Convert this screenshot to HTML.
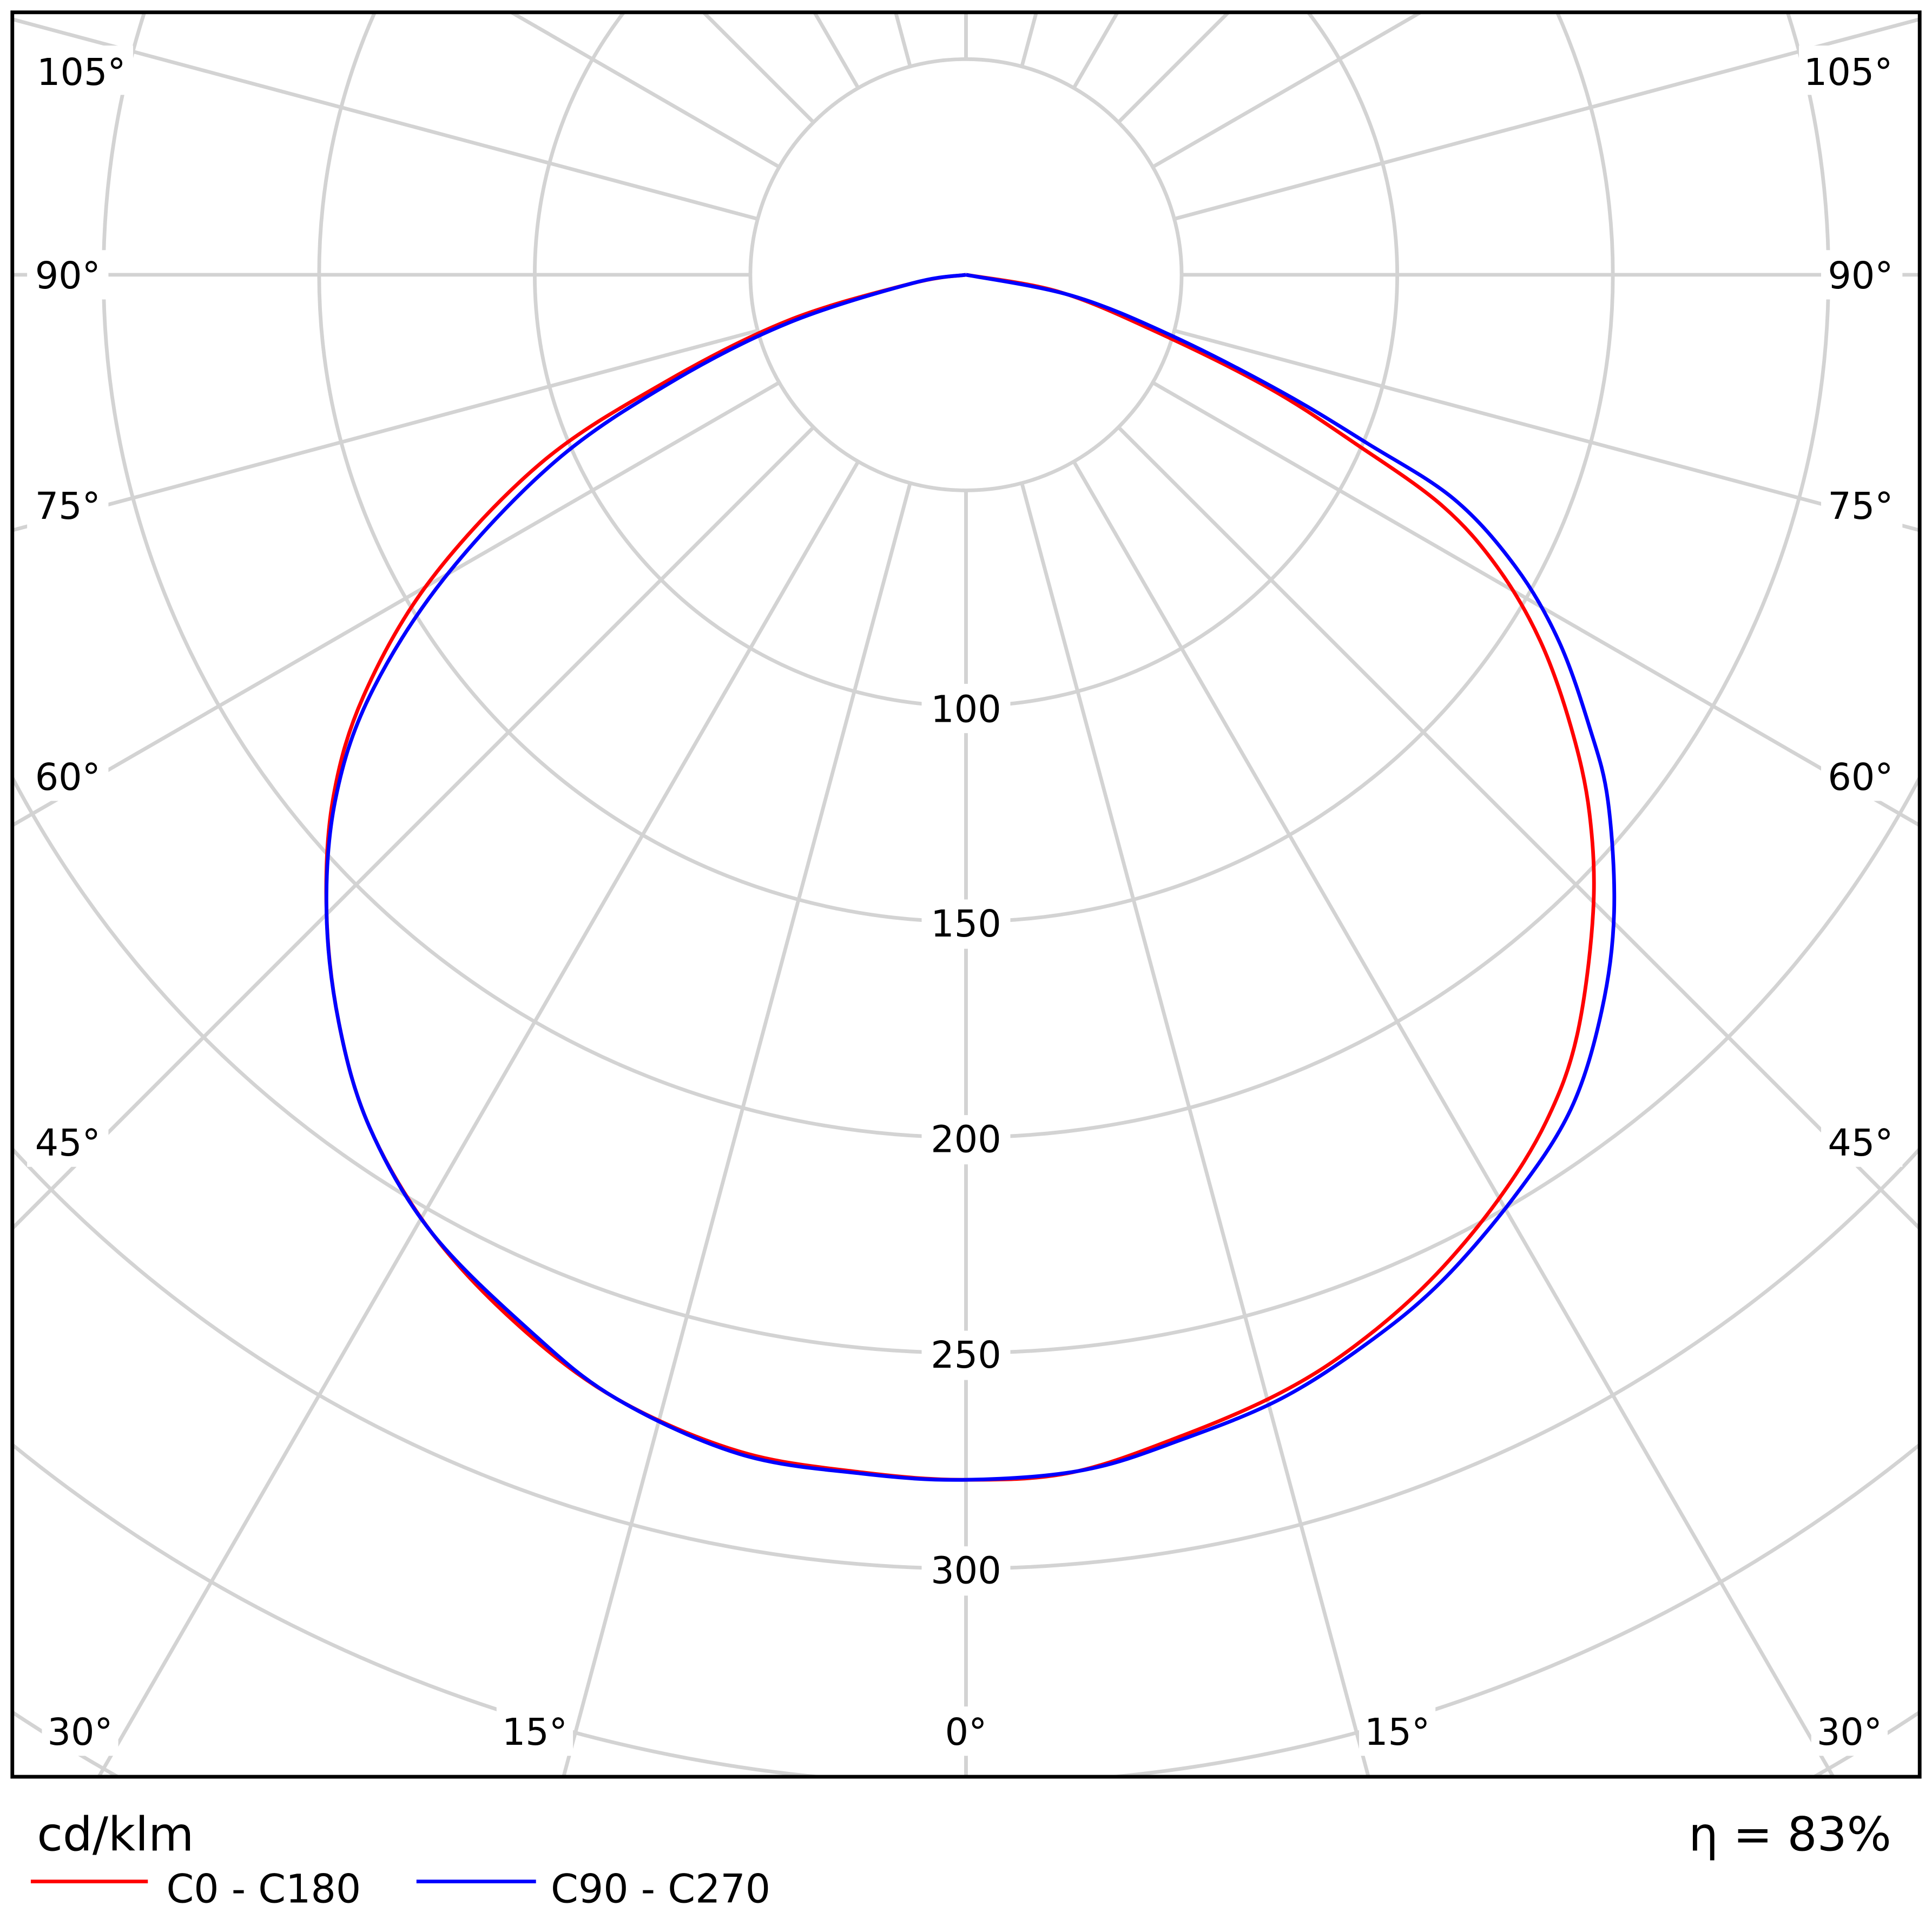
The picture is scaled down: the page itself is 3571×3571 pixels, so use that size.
<!DOCTYPE html>
<html><head><meta charset="utf-8"><style>html,body{margin:0;padding:0;background:#fff;width:3571px;height:3571px;overflow:hidden}svg{display:block}</style></head>
<body>
<svg width="3571" height="3571" viewBox="0 0 1568 1568" xmlns="http://www.w3.org/2000/svg" font-family="'DejaVu Sans','Liberation Sans',sans-serif">
<defs><clipPath id="c"><rect x="10" y="10" width="1548" height="1432"/></clipPath></defs>
<rect width="1568" height="1568" fill="#fff"/>
<g clip-path="url(#c)" stroke="#d3d3d3" stroke-width="3" fill="none">
<circle cx="784" cy="223" r="175"/><circle cx="784" cy="223" r="350"/><circle cx="784" cy="223" r="525"/>
<circle cx="784" cy="223" r="700"/><circle cx="784" cy="223" r="875"/><circle cx="784" cy="223" r="1050"/>
<circle cx="784" cy="223" r="1225"/><circle cx="784" cy="223" r="1400"/><circle cx="784" cy="223" r="1575"/>
<line x1="784" y1="398" x2="784" y2="2223"/>
<line x1="829.3" y1="392" x2="1301.6" y2="2154.8"/><line x1="738.7" y1="392" x2="266.4" y2="2154.8"/>
<line x1="871.5" y1="374.6" x2="1784" y2="1955"/><line x1="696.5" y1="374.6" x2="-216" y2="1955"/>
<line x1="907.7" y1="346.7" x2="2198" y2="1637"/><line x1="660.3" y1="346.7" x2="-630" y2="1637"/>
<line x1="935.6" y1="310.5" x2="2516" y2="1223"/><line x1="632.4" y1="310.5" x2="-948" y2="1223"/>
<line x1="953" y1="268.3" x2="2715.8" y2="740.6"/><line x1="615" y1="268.3" x2="-1147.8" y2="740.6"/>
<line x1="959" y1="223" x2="2784" y2="223"/><line x1="609" y1="223" x2="-1216" y2="223"/>
<line x1="953" y1="177.7" x2="2715.8" y2="-294.6"/><line x1="615" y1="177.7" x2="-1147.8" y2="-294.6"/>
<line x1="935.6" y1="135.5" x2="2516" y2="-777"/><line x1="632.4" y1="135.5" x2="-948" y2="-777"/>
<line x1="907.7" y1="99.3" x2="2198" y2="-1191"/><line x1="660.3" y1="99.3" x2="-630" y2="-1191"/>
<line x1="871.5" y1="71.4" x2="1784" y2="-1509"/><line x1="696.5" y1="71.4" x2="-216" y2="-1509"/>
<line x1="829.3" y1="54" x2="1301.6" y2="-1708.8"/><line x1="738.7" y1="54" x2="266.4" y2="-1708.8"/>
<line x1="784" y1="48" x2="784" y2="-1777"/>
</g>
<g fill="#fff">
<rect x="748" y="555" width="72" height="40"/><rect x="748" y="730" width="72" height="40"/><rect x="748" y="905" width="72" height="40"/>
<rect x="748" y="1080" width="72" height="40"/><rect x="748" y="1255" width="72" height="40"/>
<rect x="760" y="1385" width="48" height="40"/><rect x="403" y="1385" width="62" height="40"/><rect x="1103" y="1385" width="62" height="40"/>
<rect x="34" y="1385" width="62" height="40"/><rect x="1470" y="1385" width="62" height="40"/>
<rect x="22" y="907" width="66" height="40"/><rect x="1478" y="907" width="66" height="40"/>
<rect x="22" y="610" width="66" height="40"/><rect x="1478" y="610" width="66" height="40"/>
<rect x="22" y="390" width="66" height="40"/><rect x="1478" y="390" width="66" height="40"/>
<rect x="22" y="203" width="66" height="40"/><rect x="1478" y="203" width="66" height="40"/>
<rect x="22" y="37" width="86" height="40"/><rect x="1460" y="37" width="86" height="40"/>
</g>
<g font-size="30" fill="#000" text-anchor="middle">
<text x="784" y="586">100</text><text x="784" y="760">150</text><text x="784" y="935">200</text>
<text x="784" y="1110">250</text><text x="784" y="1285">300</text>
<text x="784" y="1416">0°</text><text x="434" y="1416">15°</text><text x="1134" y="1416">15°</text>
<text x="65" y="1416">30°</text><text x="1501" y="1416">30°</text>
<text x="55" y="938">45°</text><text x="1510" y="938">45°</text>
<text x="55" y="641">60°</text><text x="1510" y="641">60°</text>
<text x="55" y="421">75°</text><text x="1510" y="421">75°</text>
<text x="55" y="234">90°</text><text x="1510" y="234">90°</text>
<text x="66" y="69">105°</text><text x="1500" y="69">105°</text>
</g>
<g fill="none" stroke-width="3" stroke-linejoin="round">
<path id="red" stroke="#f00" d=""/>
<path id="blue" stroke="#00f" d=""/>
</g>
<rect x="10" y="10" width="1548" height="1432" fill="none" stroke="#000" stroke-width="3"/>
<text x="30" y="1502" font-size="38">cd/klm</text>
<text x="1535" y="1502" font-size="38" text-anchor="end">η = 83%</text>
<line x1="25" y1="1527" x2="120" y2="1527" stroke="#f00" stroke-width="3"/>
<text x="135" y="1544" font-size="32">C0 - C180</text>
<line x1="338" y1="1527" x2="435" y2="1527" stroke="#00f" stroke-width="3"/>
<text x="447" y="1544" font-size="32">C90 - C270</text>
</svg>
<script>
function cr(p){var d="M"+p[0][0]+","+p[0][1];for(var i=0;i<p.length-1;i++){var a=p[Math.max(i-1,0)],b=p[i],c=p[i+1],e=p[Math.min(i+2,p.length-1)];d+=" C"+(b[0]+(c[0]-a[0])/6).toFixed(1)+","+(b[1]+(c[1]-a[1])/6).toFixed(1)+" "+(c[0]-(e[0]-b[0])/6).toFixed(1)+","+(c[1]-(e[1]-b[1])/6).toFixed(1)+" "+c[0]+","+c[1];}return d;}
function P(s){return s.trim().split(/\s+/).map(function(t){return t.split(",").map(Number);});}
document.getElementById("red").setAttribute("d",cr(P("784,223 740,230 640,260 540,310 440,375 350,470 295,565 270,650 265,740 275,830 300,915 350,1000 420,1075 500,1135 600,1178 700,1195 784,1201 870,1195 960,1165 1040,1130 1100,1092 1160,1040 1215,975 1255,910 1280,840 1293,740 1290,660 1275,590 1250,520 1215,460 1170,410 1100,360 1030,315 940,270 860,237 784,223")));
document.getElementById("blue").setAttribute("d",cr(P("784,223 740,230 640,262 545,310 450,375 360,470 300,565 272,650 265,740 275,830 300,915 350,1000 430,1080 500,1135 600,1180 700,1196 784,1201 880,1193 960,1168 1040,1135 1110,1090 1170,1040 1230,970 1275,900 1300,820 1310,740 1305,650 1290,590 1265,520 1230,460 1180,405 1110,360 1040,318 950,272 870,240 784,223")));
</script>
</body></html>
